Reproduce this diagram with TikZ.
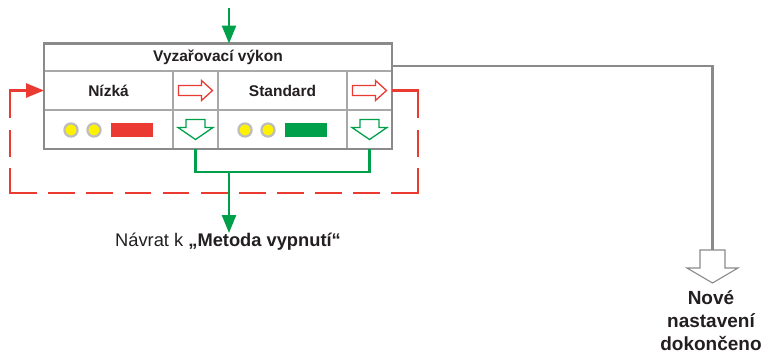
\documentclass[tikz,border=0pt]{standalone}
\usepackage{fontspec}
\setmainfont{Liberation Sans}
\usetikzlibrary{arrows.meta}
\definecolor{cred}{HTML}{EA3A32}
\definecolor{cgreen}{HTML}{00A04B}
\definecolor{cgray}{HTML}{8A8A8A}
\definecolor{clight}{HTML}{A8A8A8}
\definecolor{ctext}{HTML}{231F20}
\definecolor{cyel}{HTML}{FFF200}
\definecolor{cring}{HTML}{BDBDBD}
\begin{document}
\begin{tikzpicture}[x=1pt,y=-1pt,
  cellbox/.style={draw=clight, line width=1.1pt, inner sep=0pt, outer sep=0pt,
    minimum width=#1, minimum height=39pt, text=ctext,
    font=\fontsize{15.5}{18}\selectfont\bfseries},
  frame/.style={draw=cgray, line width=2.8pt},
  gline/.style={draw=cgreen, line width=2.6pt},
  garrow/.style={gline, -{Triangle[length=18pt,width=14pt]}},
  rdash/.style={draw=cred, line width=2.6pt, line join=miter,
    dash pattern=on 53pt off 12pt on 27pt off 11.5pt on 51.8pt
      off 11.3pt on 26.8pt off 11.3pt on 26.8pt off 11.3pt on 26.8pt
      off 11.3pt on 26.8pt off 11.3pt on 26.8pt off 11.3pt on 26.8pt
      off 11.3pt on 26.8pt off 11.3pt on 26.8pt off 11.3pt on 26.8pt
      off 11.3pt on 51.8pt off 11.5pt on 27pt off 12pt on 120pt off 1pt,
    -{Triangle[length=18pt,width=14pt]}},
  grayline/.style={draw=cgray, line width=2.5pt},
  rarr/.pic={\draw[cred, line width=1.3pt, line join=miter]
     (-17,-5) -- (6,-5) -- (6,-10) -- (17,0) -- (6,10) -- (6,5) -- (-17,5) -- cycle;},
  darr/.pic={\draw[cgreen, line width=1.3pt, line join=miter]
     (-9.5,-10) -- (9.5,-10) -- (9.5,-2) -- (17.5,-2) -- (0,10) -- (-17.5,-2) -- (-9.5,-2) -- cycle;},
  bigarr/.pic={\draw[cgray, line width=1.1pt, line join=miter, fill=white]
     (-12.5,-16) -- (12.5,-16) -- (12.5,2) -- (25.5,2) -- (0,17) -- (-25.5,2) -- (-12.5,2) -- cycle;},
  leds/.pic={
     \fill[cyel, draw=cring, line width=2.2pt] (-37.5,0.5) circle (6.6pt);
     \fill[cyel, draw=cring, line width=2.2pt] (-14.5,0.5) circle (6.6pt);
     \fill[#1] (2.5,-6.5) rectangle (44.5,7.5);},
]
\useasboundingbox (0,0) rectangle (764,354);

% table cells
\node[cellbox=348pt, minimum height=27.5pt] (title) at (218,57.25) {Vyzařovací výkon};
\node[cellbox=129pt] (nizka) at (108.5,90.5) {Nízká};
\node[cellbox=45pt] (rcell1) at (195.5,90.5) {};
\node[cellbox=129pt] (std) at (282.5,90.5) {Standard};
\node[cellbox=45pt] (rcell2) at (369.5,90.5) {};
\node[cellbox=129pt] (leds1) at (108.5,129.5) {};
\node[cellbox=45pt] (dcell1) at (195.5,129.5) {};
\node[cellbox=129pt] (leds2) at (282.5,129.5) {};
\node[cellbox=45pt] (dcell2) at (369.5,129.5) {};
\draw[frame] (title.north west) rectangle (dcell2.south east);

\pic at (rcell1) {rarr};
\pic at (rcell2) {rarr};
\pic at (dcell1) {darr};
\pic at (dcell2) {darr};
\pic at (leds1) {leds=cred};
\pic at (leds2) {leds=cgreen};

% red dashed loop
\coordinate (lpR) at (418,193);
\coordinate (lpL) at (10,193);
\draw[rdash] (rcell2.east) -| (lpR) -- (lpL) |- (nizka.west);

% top green arrow
\coordinate (gtop) at (229,8);
\draw[garrow] (gtop) -- (gtop |- title.north);

% green return connector
\coordinate (gjoin) at (229,172);
\draw[gline] (dcell1.south) |- (gjoin) -| (dcell2.south);
\node[inner sep=0pt, anchor=north, text=ctext, font=\fontsize{18.3}{21}\selectfont]
  (ret) at (228,233) {Návrat k \textbf{„Metoda vypnutí“}};
\draw[garrow] (gjoin) -- (gjoin |- ret.north);

% gray connector to completion
\coordinate (gout) at (392,66);
\coordinate (garr) at (712.5,250);
\draw[grayline] (gout) -| (garr);
\pic at (712.5,266) {bigarr};
\node[align=center, text=ctext, font=\fontsize{19}{23}\selectfont\bfseries]
  (done) at (711,321) {Nové\\nastavení\\dokončeno};
\end{tikzpicture}
\end{document}
